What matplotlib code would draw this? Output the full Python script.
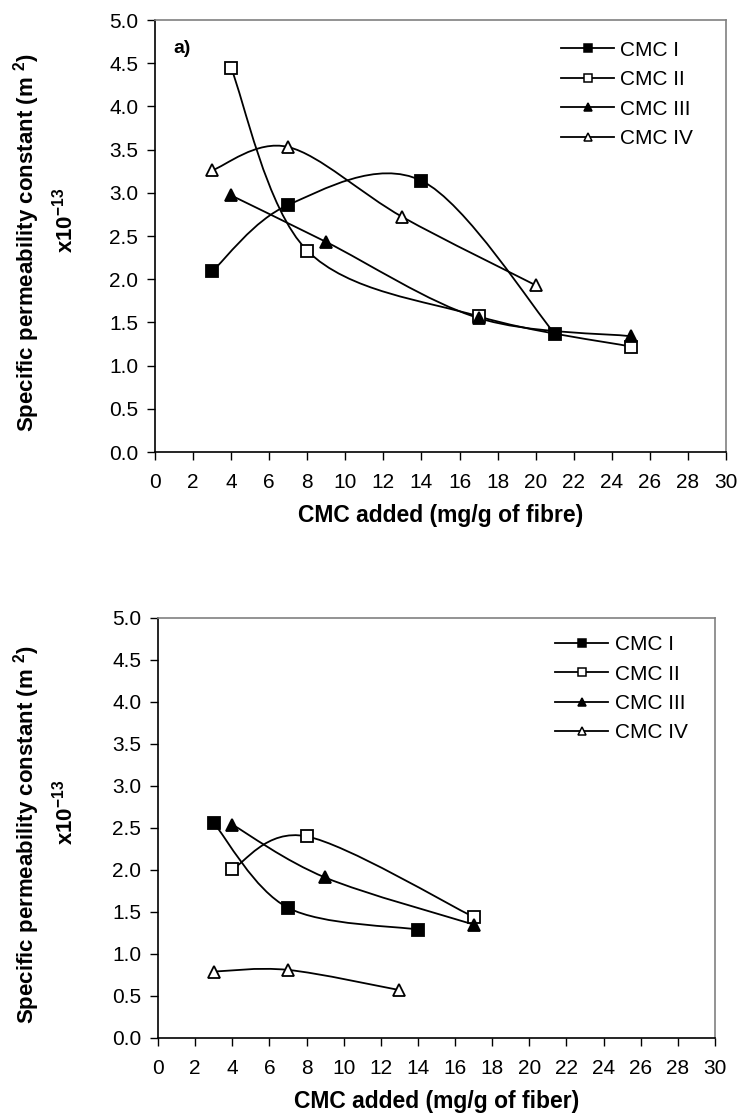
import matplotlib
matplotlib.use("Agg")
import matplotlib.pyplot as plt
from matplotlib.path import Path
from matplotlib.patches import PathPatch
from matplotlib.lines import Line2D
import numpy as np

plt.rcParams['font.family'] = ['Liberation Sans', 'DejaVu Sans']
plt.rcParams['mathtext.fontset'] = 'custom'
plt.rcParams['mathtext.rm'] = 'Liberation Sans:bold'
plt.rcParams['mathtext.it'] = 'Liberation Sans:bold'
plt.rcParams['mathtext.bf'] = 'Liberation Sans:bold'

names = ['CMC I', 'CMC II', 'CMC III', 'CMC IV']

# panel a) values
top_x = {'CMC I': [3, 7, 14, 21],
         'CMC II': [4, 8, 17, 25],
         'CMC III': [4, 9, 17, 25],
         'CMC IV': [3, 7, 13, 20]}
top_y = {'CMC I': [2.09, 2.86, 3.14, 1.37],
         'CMC II': [4.44, 2.33, 1.57, 1.22],
         'CMC III': [2.97, 2.43, 1.55, 1.34],
         'CMC IV': [3.26, 3.53, 2.72, 1.93]}

# lower panel
bot_x = {'CMC I': [3, 7, 14],
         'CMC II': [4, 8, 17],
         'CMC III': [4, 9, 17],
         'CMC IV': [3, 7, 13]}
bot_y = {'CMC I': [2.56, 1.55, 1.29],
         'CMC II': [2.01, 2.40, 1.44],
         'CMC III': [2.54, 1.91, 1.35],
         'CMC IV': [0.79, 0.81, 0.57]}

styles = {'CMC I': dict(marker='s', mfc='black'),
          'CMC II': dict(marker='s', mfc='white'),
          'CMC III': dict(marker='^', mfc='black'),
          'CMC IV': dict(marker='^', mfc='white')}

xticks = list(range(0, 31, 2))
yticks = [0.0, 0.5, 1.0, 1.5, 2.0, 2.5, 3.0, 3.5, 4.0, 4.5, 5.0]

TICK_FS = 15
LAB_FS = 16.5
YLAB_FS = 16


def smooth_path(xs, ys):
    # excel-like smoothed line: bezier segments through the data points
    p = np.column_stack([xs, ys]).astype(float)
    verts = [p[0]]
    codes = [Path.MOVETO]
    n = len(p)
    for i in range(n - 1):
        p0 = p[i - 1] if i > 0 else p[i]
        p3 = p[i + 2] if i + 2 < n else p[i + 1]
        c1 = p[i] + (p[i + 1] - p0) / 6.0
        c2 = p[i + 1] - (p3 - p[i]) / 6.0
        verts += [c1, c2, p[i + 1]]
        codes += [Path.CURVE4] * 3
    return Path(verts, codes)


def draw_panel(ax, xd, yd, xlabel, leg_xy):
    for nm in names:
        path = smooth_path(xd[nm], yd[nm])
        ax.add_patch(PathPatch(path, fill=False, lw=1.3, ec='black', zorder=2))
        ax.plot(xd[nm], yd[nm], ls='none', marker=styles[nm]['marker'],
                mfc=styles[nm]['mfc'], mec='black', mew=1.3, ms=8, zorder=3)
    ax.set_xlim(0, 30)
    ax.set_ylim(0, 5)
    ax.set_xticks(xticks)
    ax.set_yticks(yticks)
    ax.set_yticklabels(['%.1f' % v for v in yticks])
    ax.tick_params(direction='out', length=6, width=1, pad=6, labelsize=TICK_FS)
    ax.tick_params(axis='x', pad=9)
    ax.spines['top'].set_color('#808080')
    ax.spines['right'].set_color('#808080')
    for s in ax.spines.values():
        s.set_linewidth(1.2)
    ax.set_xlabel(xlabel, fontsize=LAB_FS, fontweight='bold', labelpad=9)
    handles = [Line2D([], [], color='black', lw=1.3, marker=styles[nm]['marker'],
                      mfc=styles[nm]['mfc'], mec='black', mew=1.1, ms=6)
               for nm in names]
    ax.legend(handles, names, loc='upper left', bbox_to_anchor=leg_xy,
              frameon=False, fontsize=TICK_FS, handlelength=2.55,
              handletextpad=0.3, labelspacing=0.5, borderpad=0,
              borderaxespad=0)


fig = plt.figure(figsize=(7.4, 11.18), dpi=100)
ax1 = fig.add_axes([0.2095, 0.5957, 0.7716, 0.3864])
ax2 = fig.add_axes([0.2135, 0.0716, 0.7527, 0.3757])

draw_panel(ax1, top_x, top_y, 'CMC added (mg/g of fibre)', (0.711, 0.952))
draw_panel(ax2, bot_x, bot_y, 'CMC added (mg/g of fiber)', (0.713, 0.959))

ax1.text(0.033, 0.935, 'a)', transform=ax1.transAxes, fontsize=14,
         fontweight='bold', va='center', ha='left')

for ax in (ax1, ax2):
    pos = ax.get_position()
    yc = (pos.y0 + pos.y1) / 2
    fig.text(27 / 740, yc - 0.006, r'Specific permeability constant (m $^{2}$)',
             rotation=90, ha='center', va='center', fontsize=YLAB_FS,
             fontweight='bold')
    fig.text(65 / 740, yc + 0.014, r'x10$^{-13}$', rotation=90, ha='center',
             va='center', fontsize=YLAB_FS, fontweight='bold')

fig.savefig('out.png', dpi=100)
